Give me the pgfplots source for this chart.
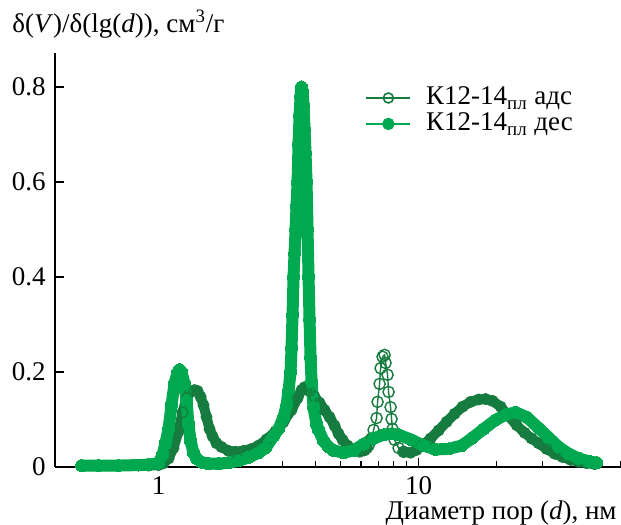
\documentclass[border=0pt]{standalone}
\usepackage{fontspec}
\setmainfont{Liberation Serif}
\usepackage{pgfplots}
\pgfplotsset{compat=1.18}
\definecolor{adsgreen}{RGB}{22,123,62}
\definecolor{desgreen}{RGB}{0,169,79}
\begin{document}
\rmfamily\fontsize{13.5}{16}\selectfont
\begin{tikzpicture}[font=\rmfamily\fontsize{13.5}{16}\selectfont]
\begin{axis}[
    scale only axis,
    width=283pt,
    height=207pt,
    xmode=log,
    xmin=0.4, xmax=60,
    ymin=0, ymax=0.8716,
    axis x line*=bottom,
    axis y line*=left,
    axis line style={line width=0.8pt},
    xtick={1,10}, xticklabels={1,10},
    minor xtick={0.5,0.6,0.7,0.8,0.9,2,3,4,5,6,7,8,9,20,30,40,50,60},
    ytick={0,0.2,0.4,0.6,0.8}, yticklabels={0,0.2,0.4,0.6,0.8},
    tick label style={font=\rmfamily\fontsize{13.5}{16}\selectfont},
    tick align=inside,
    major tick length=4.5pt,
    minor tick length=3pt,
    tick style={black, line width=0.6pt},
    clip=false,
    legend cell align=left,
    legend image code/.code={
        \draw[mark repeat=2,mark phase=2,#1]
            plot coordinates {(0pt,0pt) (11pt,0pt) (22pt,0pt)};
    },
    legend style={draw=none, fill=none, inner sep=0pt,
        at={(axis description cs:0.548,0.86)}, anchor=west,
        font=\rmfamily\fontsize{13.5}{16}\selectfont,
        row sep=2pt,
        nodes={inner sep=0pt},
        /tikz/every odd column/.append style={column sep=7.5pt}},
]
\coordinate (ll) at (rel axis cs:0,0);
\coordinate (ur) at (rel axis cs:1,1);

% адс: dense open circles, drawn as a band
\addplot[adsgreen, line width=5pt, line join=round, line cap=round,
    mark=o, mark size=2.7pt, mark options={line width=0.6pt}, forget plot]
    coordinates {
    (0.506,0.002) (0.702,0.002) (0.915,0.003) (1.000,0.004) (1.045,0.008)
    (1.093,0.018) (1.142,0.040) (1.194,0.075) (1.237,0.115) (1.282,0.145)
    (1.328,0.158) (1.376,0.162) (1.413,0.160) (1.451,0.148) (1.490,0.130)
    (1.530,0.105) (1.571,0.080) (1.613,0.065) (1.671,0.050) (1.747,0.042)
    (1.859,0.034) (1.977,0.032) (2.123,0.034) (2.279,0.038) (2.425,0.045)
    (2.603,0.058) (2.818,0.075) (3.025,0.095) (3.247,0.120) (3.425,0.145)
    (3.548,0.162) (3.644,0.168) (3.709,0.165) (3.809,0.160) (3.981,0.148)
    (4.161,0.135) (4.349,0.120) (4.546,0.105) (4.752,0.087) (4.923,0.070)
    (5.100,0.057) (5.331,0.045) (5.623,0.036) (5.932,0.032) (6.200,0.035)
    (6.310,0.040)
    };
\addplot[adsgreen, line width=0.7pt, mark=o, mark size=2.8pt, forget plot]
    coordinates {
    (6.310,0.040) (6.422,0.045) (6.595,0.060) (6.713,0.078) (6.894,0.103)
    (6.955,0.137) (7.080,0.175) (7.143,0.208) (7.270,0.232) (7.400,0.236)
    (7.466,0.219) (7.599,0.194) (7.667,0.158) (7.804,0.126) (7.873,0.101)
    (7.943,0.080) (8.085,0.057) (8.377,0.040) (8.756,0.032)
    };
\addplot[adsgreen, line width=5pt, line join=round, line cap=round,
    mark=o, mark size=2.7pt, mark options={line width=0.6pt}, forget plot]
    coordinates {
    (8.756,0.032) (9.315,0.030) (9.825,0.036) (10.360,0.046) (11.121,0.060)
    (11.938,0.077) (12.815,0.095) (13.755,0.112) (14.764,0.127) (15.849,0.137)
    (17.013,0.142) (18.101,0.143) (19.258,0.139) (20.672,0.127) (22.190,0.107)
    (23.818,0.088) (25.567,0.072) (27.200,0.060) (28.934,0.050) (31.070,0.038)
    (33.347,0.028) (35.797,0.021) (38.425,0.015) (41.246,0.011) (44.277,0.008)
    (47.517,0.006)
    };

% дес: dense filled circles
\addplot[desgreen, line width=6pt, line join=round, line cap=round,
    mark=*, mark size=3pt, mark options={line width=0pt}, forget plot]
    coordinates {
    (0.506,0.003) (0.588,0.003) (0.702,0.003) (0.838,0.004) (0.915,0.005)
    (1.000,0.008) (1.036,0.025) (1.064,0.050) (1.093,0.080) (1.122,0.130)
    (1.152,0.175) (1.183,0.198) (1.204,0.205) (1.226,0.200) (1.259,0.175)
    (1.282,0.140) (1.304,0.090) (1.328,0.055) (1.363,0.030) (1.400,0.018)
    (1.463,0.010) (1.557,0.007) (1.701,0.007) (1.859,0.009) (2.031,0.013)
    (2.219,0.020) (2.425,0.030) (2.580,0.040) (2.769,0.065) (2.894,0.080)
    (3.025,0.105) (3.107,0.130) (3.162,0.160) (3.219,0.200) (3.247,0.250)
    (3.276,0.320) (3.305,0.400) (3.335,0.450) (3.365,0.500) (3.394,0.550)
    (3.425,0.600) (3.455,0.680) (3.486,0.740) (3.517,0.780) (3.548,0.800)
    (3.580,0.790) (3.612,0.760) (3.644,0.710) (3.676,0.660) (3.709,0.600)
    (3.742,0.500) (3.775,0.400) (3.809,0.310) (3.843,0.230) (3.877,0.180)
    (3.946,0.125) (4.052,0.090) (4.125,0.078) (4.310,0.055) (4.505,0.042)
    (4.710,0.035) (5.146,0.030) (5.623,0.035) (6.146,0.048) (6.713,0.060)
    (7.335,0.068) (7.873,0.070) (8.377,0.068) (9.398,0.057) (10.452,0.045)
    (11.625,0.037) (13.044,0.038) (14.634,0.045) (15.990,0.060) (17.783,0.080)
    (19.776,0.099) (21.609,0.110) (23.608,0.115) (26.022,0.105) (28.934,0.082)
    (31.623,0.062) (34.551,0.042) (37.750,0.028) (41.246,0.018) (45.068,0.012)
    (48.365,0.009)
    };

\addlegendimage{adsgreen, line width=0.8pt, mark=o, mark size=2.5pt,
    mark options={fill=white}}
\addlegendentry{К12-14\textsubscript{пл} адс}
\addlegendimage{desgreen, line width=0.8pt, mark=*, mark size=2.7pt}
\addlegendentry{К12-14\textsubscript{пл} дес}

\node[anchor=base west, inner sep=0pt, xshift=-21.5pt, yshift=10pt]
    at (rel axis cs:0,1)
    {δ(\textit{V})/δ(lg(\textit{d})), см\textsuperscript{3}/г};
\node[anchor=base east, inner sep=0pt, xshift=-2pt, yshift=-26.5pt]
    at (rel axis cs:1,0) {Диаметр пор (\textit{d}), нм};
\end{axis}
\pgfresetboundingbox
\path[use as bounding box] ([shift={(-27.5pt,-29pt)}]ll)
    rectangle ([shift={(0pt,26.5pt)}]ur);
\end{tikzpicture}
\end{document}
